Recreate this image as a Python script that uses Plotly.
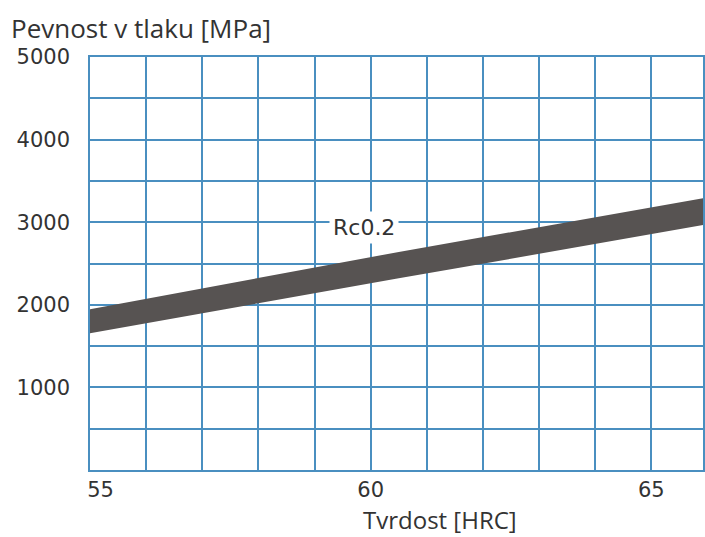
import plotly.graph_objects as go

# Data
hrc = [55, 60.5, 66]
rc_lower = [1655, 2320, 2975]
rc_upper = [1945, 2640, 3300]
band_label = "Rc0.2"
label_pos = (59.88, 2930)
x_ticks = [55, 60, 65]
x_ticktext = ["\u2002\u200255", "60", "65"]
y_ticks = [1000, 2000, 3000, 4000, 5000]
y_title = "Pevnost v tlaku [MPa]"
x_title = "Tvrdost [HRC]"

grid_blue = "#4a8fc0"
band_col = "#575352"
text_col = "#333333"

fig = go.Figure()
fig.add_trace(go.Scatter(x=hrc, y=rc_lower, mode="lines", line=dict(color=band_col, width=0),
                         showlegend=False, hoverinfo="skip"))
fig.add_trace(go.Scatter(x=hrc, y=rc_upper, mode="lines", line=dict(color=band_col, width=0),
                         fill="tonexty", fillcolor=band_col, showlegend=False, hoverinfo="skip"))

fig.add_annotation(x=label_pos[0], y=label_pos[1], text=band_label, showarrow=False,
                   font=dict(family="DejaVu Sans", size=22, color=text_col),
                   bgcolor="white", borderpad=3)

# axis titles placed as in the reference
fig.add_annotation(xref="paper", yref="paper", x=-0.132, y=1.071, xanchor="left", yanchor="middle",
                   text=y_title, showarrow=False,
                   font=dict(family="Open Sans", size=26, color=text_col))
fig.add_annotation(xref="paper", yref="paper", x=0.571, y=-0.119, xanchor="center", yanchor="middle",
                   text=x_title, showarrow=False,
                   font=dict(family="Open Sans", size=24, color=text_col))

fig.update_layout(
    width=705, height=537,
    margin=dict(l=90, r=0, t=57, b=67),
    paper_bgcolor="white", plot_bgcolor="white",
    font=dict(family="DejaVu Sans", size=21, color=text_col),
)
fig.update_xaxes(range=[55, 65.92], tickvals=x_ticks, ticktext=x_ticktext,
                 showgrid=True, gridcolor=grid_blue, gridwidth=1.6,
                 minor=dict(dtick=1, showgrid=True, gridcolor=grid_blue, gridwidth=1.6),
                 showline=True, linecolor=grid_blue, linewidth=1.6, mirror=True,
                 zeroline=False, ticks="", ticklabelstandoff=0)
fig.update_yaxes(range=[0, 5000], tickvals=y_ticks, showgrid=True, gridcolor=grid_blue, gridwidth=1.6,
                 minor=dict(dtick=500, showgrid=True, gridcolor=grid_blue, gridwidth=1.6),
                 showline=True, linecolor=grid_blue, linewidth=1.6, mirror=True,
                 zeroline=False, ticks="", ticklabelstandoff=14)

fig.write_html("out.html", config={"displayModeBar": False},
               post_script="document.body.style.margin='0';document.body.style.overflow='hidden';")
